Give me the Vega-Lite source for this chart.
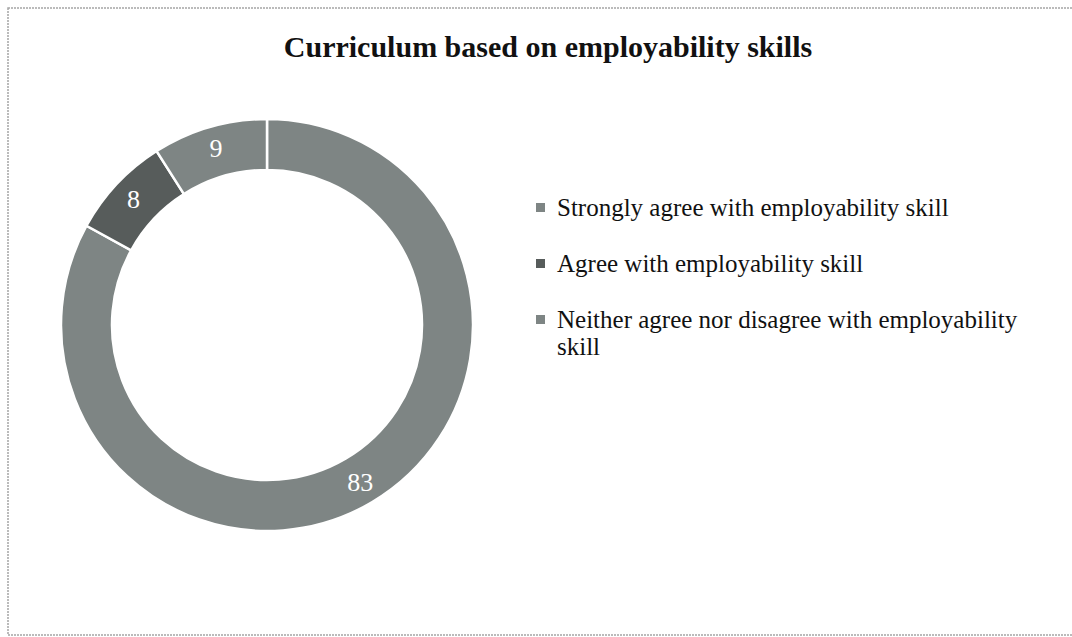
{
  "$schema": "https://vega.github.io/schema/vega-lite/v6.json",
  "width": 1072,
  "height": 637,
  "autosize": {"type": "fit", "contains": "padding"},
  "padding": {"left": 7, "top": 7, "right": -3, "bottom": 1},
  "background": "white",
  "config": {
    "view": {"stroke": null},
    "font": "Liberation Serif"
  },
  "title": {
    "text": "Curriculum based on employability skills",
    "font": "Liberation Serif",
    "fontSize": 30,
    "fontWeight": "bold",
    "color": "#111111",
    "anchor": "middle",
    "frame": "group",
    "offset": -56,
    "dx": 7
  },
  "datasets": {
    "slices": [
      {"category": "Strongly agree with employability skill", "value": 83, "order": 1},
      {"category": "Agree with employability skill", "value": 8, "order": 2},
      {"category": "Neither agree nor disagree with employability skill", "value": 9, "order": 3}
    ],
    "frame": [{"name": "frame"}]
  },
  "layer": [
    {
      "data": {"name": "frame"},
      "mark": {"type": "rect", "fill": null, "stroke": "#a5a5a5", "strokeWidth": 1.5, "strokeDash": [2, 1]},
      "encoding": {}
    },
    {
      "data": {"name": "slices"},
      "mark": {"type": "arc", "x": 259, "y": 317, "outerRadius": 206, "innerRadius": 155, "stroke": "white", "strokeWidth": 2.5},
      "encoding": {
        "theta": {"field": "value", "type": "quantitative", "stack": true},
        "order": {"field": "order", "type": "quantitative"},
        "color": {
          "field": "category",
          "type": "nominal",
          "sort": ["Strongly agree with employability skill", "Agree with employability skill", "Neither agree nor disagree with employability skill"],
          "scale": {
            "domain": ["Strongly agree with employability skill", "Agree with employability skill", "Neither agree nor disagree with employability skill"],
            "range": ["#7e8584", "#575c5b", "#7e8584"]
          },
          "legend": {
            "title": null,
            "orient": "none",
            "legendX": 520,
            "legendY": 187,
            "symbolType": "square",
            "symbolSize": 81,
            "symbolStrokeWidth": 0,
            "labelFont": "Liberation Serif",
            "labelFontSize": 25,
            "labelColor": "#111111",
            "labelLimit": 700,
            "labelOffset": 4,
            "rowPadding": 30,
            "labelExpr": "datum.label == 'Neither agree nor disagree with employability skill' ? ['Neither agree nor disagree with employability', 'skill'] : datum.label"
          }
        }
      }
    },
    {
      "data": {"name": "slices"},
      "mark": {"type": "text", "x": 259, "y": 317, "radius": 183, "font": "Liberation Serif", "fontSize": 26, "color": "white"},
      "encoding": {
        "theta": {"field": "value", "type": "quantitative", "stack": true},
        "order": {"field": "order", "type": "quantitative"},
        "text": {"field": "value", "type": "quantitative"}
      }
    }
  ]
}
